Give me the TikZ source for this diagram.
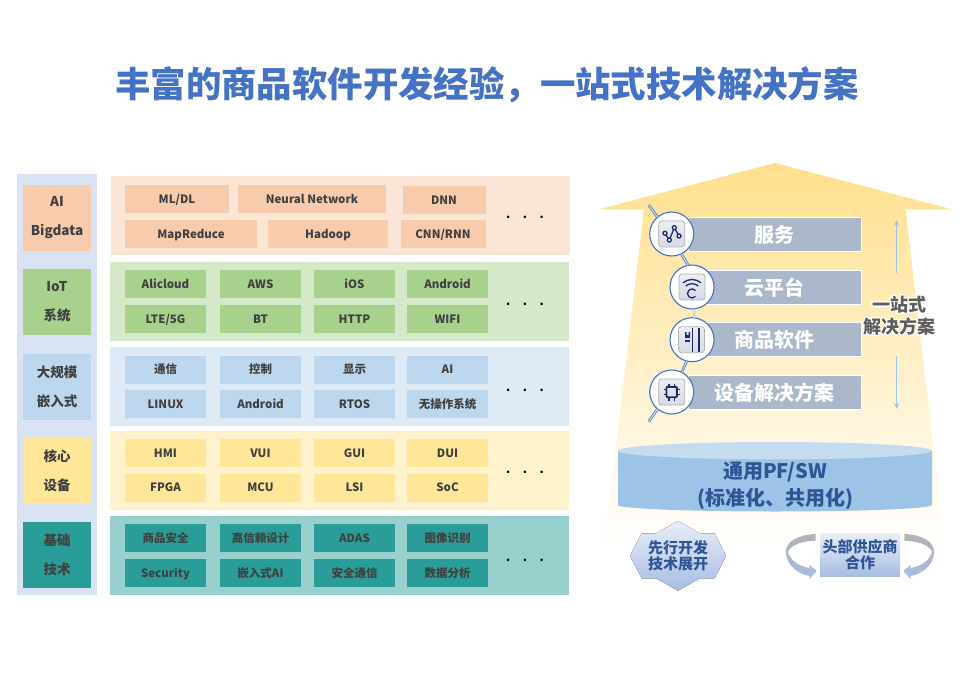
\documentclass[tikz,border=0pt]{standalone}
\usepackage{xcolor}
\usepackage{fontspec}
\usepackage{tikz}
\usepackage[copies]{contour}
\setmainfont{Noto Sans CJK SC}
\contourlength{0.9pt}
\contournumber{24}
\definecolor{TitleBlue}{HTML}{4472C4}
\definecolor{InkGray}{HTML}{404040}
\definecolor{SideBlue}{HTML}{DAE3F3}
\definecolor{PeachPanel}{HTML}{FBE5D6}
\definecolor{PeachCell}{HTML}{F8CBAD}
\definecolor{GreenPanel}{HTML}{D5E8C8}
\definecolor{GreenCell}{HTML}{A9D18E}
\definecolor{BluePanel}{HTML}{DEEBF7}
\definecolor{BlueCell}{HTML}{BDD7EE}
\definecolor{YellowPanel}{HTML}{FFF2CC}
\definecolor{YellowCell}{HTML}{FFE699}
\definecolor{TealPanel}{HTML}{97D0CD}
\definecolor{TealCell}{HTML}{2A9D98}
\definecolor{ArrowGold}{HTML}{FFDF8C}
\definecolor{BarSlate}{HTML}{ABB7CA}
\definecolor{RingBlue}{HTML}{4472C4}
\definecolor{GlyphNavy}{HTML}{1F2A6E}
\definecolor{DrumTop}{HTML}{C5DBF0}
\definecolor{DrumBody}{HTML}{9DC3E6}
\definecolor{DeepBlue}{HTML}{2F5597}
\definecolor{BadgeLight}{HTML}{E8EEF9}
\definecolor{BadgeDark}{HTML}{A8BCE3}
\definecolor{IconTop}{HTML}{ECEDF4}
\definecolor{IconBottom}{HTML}{D6D9E8}
\tikzset{
  txtbase/.style={inner sep=0pt, outer sep=0pt, align=center},
  cell/.style={txtbase, minimum width=81pt, minimum height=28pt, text=InkGray,
    font=\fontsize{11.5}{14}\selectfont\bfseries, text height=11pt, text depth=2.4pt},
  panel/.style={txtbase, minimum width=459pt, minimum height=79pt},
  sidelabel/.style={txtbase, minimum width=68pt, minimum height=66pt, text=InkGray,
    font=\fontsize{13.5}{29}\selectfont\bfseries},
  dots/.style={txtbase, font=\fontsize{12}{14}\selectfont\bfseries},
  stackbar/.style={txtbase, fill=BarSlate, draw=white, line width=0.5pt, minimum width=173pt,
    minimum height=34pt, text=white, font=\fontsize{20}{24}\selectfont\bfseries,
    text height=19.2pt, text depth=3pt},
  ring/.style={circle, draw=RingBlue, fill=white, line width=1.1pt, inner sep=0pt, outer sep=0pt,
    minimum size=44pt},
  iconbox/.style={draw=black!30, rounded corners=3pt, line width=0.8pt, top color=IconTop,
    bottom color=IconBottom, minimum size=26pt, inner sep=0pt},
  glyph/.style={draw=GlyphNavy, line width=1.3pt},
  linkline/.style={draw=RingBlue, double=white!70!RingBlue, line width=0.7pt, double distance=1.2pt},
  sidearrow/.style={draw=DrumBody, line width=1.4pt, -{Stealth[length=6pt,width=5pt]}},
  badgetext/.style={text=DeepBlue, align=center, inner sep=0pt,
    font=\fontsize{15}{16}\selectfont\bfseries},
  badgefill/.style={top color=BadgeLight, bottom color=BadgeDark, draw=none},
}
\usetikzlibrary{arrows.meta}
\begin{document}
\begin{tikzpicture}[x=1pt,y=-1pt]
\useasboundingbox (0,0) rectangle (976,700);
\node[txtbase, text=TitleBlue, font=\fontsize{35.4}{40}\selectfont\bfseries] (title) at (487,85) {丰富的商品软件开发经验，一站式技术解决方案};

% left column of layer names
\fill[SideBlue] (17,174) rectangle (97,595);
\node[sidelabel, fill=PeachCell, yshift=-1.5pt] (sideAi) at (57,216.5) {AI\\Bigdata};
\node[sidelabel, fill=GreenCell, yshift=-1.5pt] (sideIot) at (57,300.5) {IoT\\系统};
\node[sidelabel, fill=BlueCell] (sideEmb) at (57,387) {大规模\\嵌入式};
\node[sidelabel, fill=YellowCell] (sideCore) at (57,470.5) {核心\\设备};
\node[sidelabel, fill=TealCell] (sideBase) at (57,554.5) {基础\\技术};

% layer panels
\node[panel, fill=PeachPanel] (panelAi) at (340,216) {};
\node[panel, fill=GreenPanel] (panelIot) at (339.5,301.5) {};
\node[panel, fill=BluePanel] (panelEmb) at (339.5,386) {};
\node[panel, fill=YellowPanel] (panelCore) at (339.5,470.5) {};
\node[panel, fill=TealPanel] (panelBase) at (339.5,555.5) {};

% AI row
\node[cell, fill=PeachCell, minimum width=104pt] (mlCell) at (177,199) {ML/DL};
\node[cell, fill=PeachCell, minimum width=148pt] (nnCell) at (312,199) {Neural Network};
\node[cell, fill=PeachCell, minimum width=83pt] (dnnCell) at (444,200) {DNN};
\node[cell, fill=PeachCell, minimum width=132pt] (mrCell) at (191,233.75) {MapReduce};
\node[cell, fill=PeachCell, minimum width=120pt] (hadoopCell) at (328,233.75) {Hadoop};
\node[cell, fill=PeachCell, minimum width=85pt] (cnnCell) at (443,233.75) {CNN/RNN};
\node[dots] (dotsAi) at (525,217.5) {.\hspace{12.5pt}.\hspace{12.5pt}.};

% IoT row
\node[cell, fill=GreenCell] (aliCell) at (165.5,284) {Alicloud};
\node[cell, fill=GreenCell] (awsCell) at (260.5,284) {AWS};
\node[cell, fill=GreenCell] (iosCell) at (354.5,284) {iOS};
\node[cell, fill=GreenCell] (androidCell) at (447.5,284) {Android};
\node[cell, fill=GreenCell] (lteCell) at (165.5,318.75) {LTE/5G};
\node[cell, fill=GreenCell] (btCell) at (260.5,318.75) {BT};
\node[cell, fill=GreenCell] (httpCell) at (354.5,318.75) {HTTP};
\node[cell, fill=GreenCell] (wifiCell) at (447.5,318.75) {WIFI};
\node[dots] (dotsIot) at (525,304) {.\hspace{12.5pt}.\hspace{12.5pt}.};

% embedded row
\node[cell, fill=BlueCell] (commCell) at (165.5,369.5) {通信};
\node[cell, fill=BlueCell] (ctrlCell) at (260.5,369.5) {控制};
\node[cell, fill=BlueCell] (dispCell) at (354.5,369.5) {显示};
\node[cell, fill=BlueCell] (aiCell) at (447.5,369.5) {AI};
\node[cell, fill=BlueCell] (linuxCell) at (165.5,404) {LINUX};
\node[cell, fill=BlueCell] (droidCell) at (260.5,404) {Android};
\node[cell, fill=BlueCell] (rtosCell) at (354.5,404) {RTOS};
\node[cell, fill=BlueCell] (noOsCell) at (447.5,404) {无操作系统};
\node[dots] (dotsEmb) at (525,390) {.\hspace{12.5pt}.\hspace{12.5pt}.};

% core device row
\node[cell, fill=YellowCell] (hmiCell) at (165.5,453.25) {HMI};
\node[cell, fill=YellowCell] (vuiCell) at (260.5,453.25) {VUI};
\node[cell, fill=YellowCell] (guiCell) at (354.5,453.25) {GUI};
\node[cell, fill=YellowCell] (duiCell) at (447.5,453.25) {DUI};
\node[cell, fill=YellowCell] (fpgaCell) at (165.5,487.5) {FPGA};
\node[cell, fill=YellowCell] (mcuCell) at (260.5,487.5) {MCU};
\node[cell, fill=YellowCell] (lsiCell) at (354.5,487.5) {LSI};
\node[cell, fill=YellowCell] (socCell) at (447.5,487.5) {SoC};
\node[dots] (dotsCore) at (525,472) {.\hspace{12.5pt}.\hspace{12.5pt}.};

% base row
\node[cell, fill=TealCell] (safeCell) at (165.5,538) {商品安全};
\node[cell, fill=TealCell] (trustCell) at (260.5,538) {高信赖设计};
\node[cell, fill=TealCell] (adasCell) at (354.5,538) {ADAS};
\node[cell, fill=TealCell] (imgCell) at (447.5,538) {图像识别};
\node[cell, fill=TealCell] (secCell) at (165.5,573) {Security};
\node[cell, fill=TealCell] (embAiCell) at (260.5,573) {嵌入式AI};
\node[cell, fill=TealCell] (secCommCell) at (354.5,573) {安全通信};
\node[cell, fill=TealCell] (dataCell) at (447.5,573) {数据分析};
\node[dots] (dotsBase) at (525,560) {.\hspace{12.5pt}.\hspace{12.5pt}.};

% big arrow behind the stack
\shade[top color=ArrowGold, bottom color=white] (775,163) -- (952,209.3) -- (905.5,209.3) -- (945,545) -- (604,545) -- (644,209.3) -- (599,209.3) -- cycle;

\node[stackbar] (barSvc) at (774.5,234) {服务};
\node[stackbar] (barCloud) at (774.5,287) {云平台};
\node[stackbar] (barSoft) at (774.5,339.7) {商品软件};
\node[stackbar] (barDev) at (774.5,392.5) {设备解决方案};

\node[ring] (ringSvc) at (671.7,234) {};
\node[ring] (ringCloud) at (692,287) {};
\node[ring] (ringSoft) at (692,339.7) {};
\node[ring] (ringDev) at (671.7,392) {};

\coordinate (tailTop) at (648.7,205);
\coordinate (tailEnd) at (648.7,421.7);
\draw[linkline] (tailTop) -- (ringSvc.130);
\draw[linkline] (ringSvc.-64) -- (ringCloud.100);
\draw[linkline] (ringCloud.-85) -- (ringSoft.85);
\draw[linkline] (ringSoft.-104) -- (ringDev.63);
\draw[linkline] (ringDev.-130) -- (tailEnd);

% icons inside the rings
\node[iconbox] (iconSvc) at (671.7,234) {};
\draw[glyph] (665,233.3) -- (669.3,240) -- (674.3,227.7) -- (679,236);
\draw[glyph, fill=IconTop] (665,233.3) circle (2pt) (669.3,240) circle (2pt) (674.3,227.7) circle (2pt) (679,236) circle (2pt);

\node[iconbox] (iconCloud) at (692,287) {};
\draw[glyph] (692,293.5) ++(-50:14) arc[start angle=-50, end angle=-130, radius=14];
\draw[glyph] (692,293.5) ++(-50:9.8) arc[start angle=-50, end angle=-130, radius=9.8];
\draw[glyph] (692,293.5) ++(40:4.5) arc[start angle=40, end angle=320, radius=4.5];

\node[iconbox] (iconSoft) at (691.5,339.7) {};
\draw[glyph] (692.5,328) -- (692.5,351.5);
\draw[glyph] (699,328) -- (699,351.5);
\fill[GlyphNavy] (685,332) -- (686.5,332) -- (686.5,335) -- (688.5,335) -- (688.5,332) -- (690,332) -- (690,338) -- (685,338) -- cycle;
\draw[glyph] (685,341) -- (690,341);

\node[iconbox] (iconDev) at (671.7,392) {};
\draw[glyph, line width=1.9pt, rounded corners=1pt] (666.5,386.8) rectangle (676.9,397.2);
\draw[glyph] (669,383.5) -- (669,386) (674.4,383.5) -- (674.4,386) (669,398) -- (669,400.5) (674.4,398) -- (674.4,400.5) (663.5,389.4) -- (666,389.4) (663.5,394.8) -- (666,394.8) (677.5,389.4) -- (680,389.4) (677.5,394.8) -- (680,394.8);

% one-stop label between the two thin arrows
\coordinate (upStart) at (896.7,272.7);
\coordinate (upEnd) at (896.7,220);
\coordinate (downStart) at (896.7,356);
\coordinate (downEnd) at (896.7,409);
\draw[sidearrow] (upStart) -- (upEnd);
\draw[sidearrow] (downStart) -- (downEnd);
\node[txtbase, text=InkGray!85, font=\fontsize{18}{22}\selectfont\bfseries] (oneStop) at (899,316) {\contour{white}{一站式}\\\contour{white}{解决方案}};

% drum
\fill[DrumBody] (618,450.7) -- (618,505) arc[start angle=180, end angle=0, x radius=157, y radius=6.5] -- (932,450.7) -- cycle;
\fill[DrumTop] (775,450.7) ellipse[x radius=157, y radius=8.7];
\node[txtbase, text=DeepBlue, font=\fontsize{20}{26.5}\selectfont\bfseries] (drumText) at (775,485.5) {通用PF/SW\\(标准化、共用化)};

% badge on the left
\fill[badgefill] (678,521) -- (700,533.3) -- (714.7,533.3) -- (726,555.7) -- (714.7,578.3) -- (700,578.3) -- (678,590.7) -- (656,578.3) -- (641.7,578.3) -- (630,555.7) -- (641.7,533.3) -- (656,533.3) -- cycle;
\node[badgetext] (badgeHex) at (678,556) {先行开发\\技术展开};

% badge on the right with its two swirls
\node[badgetext, badgefill, minimum width=80pt, minimum height=43.4pt] (badgeBox) at (860,555) {头部供应商\\合作};
\shade[top color=black!30, bottom color=BadgeDark] (815.7,534) .. controls (798,535) and (786,541) .. (786,552) .. controls (786,565) and (798,574) .. (809.3,576) -- (809.3,579) -- (816.7,571) -- (809.3,565) -- (809.3,568) .. controls (798,566) and (790,560) .. (788,552) .. controls (790,546) and (800,541) .. (815.7,540.7) -- cycle;
\begin{scope}[xshift=1720pt, xscale=-1]
\shade[top color=black!30, bottom color=BadgeDark] (815.7,534) .. controls (798,535) and (786,541) .. (786,552) .. controls (786,565) and (798,574) .. (809.3,576) -- (809.3,579) -- (816.7,571) -- (809.3,565) -- (809.3,568) .. controls (798,566) and (790,560) .. (788,552) .. controls (790,546) and (800,541) .. (815.7,540.7) -- cycle;
\end{scope}
\end{tikzpicture}
\end{document}
